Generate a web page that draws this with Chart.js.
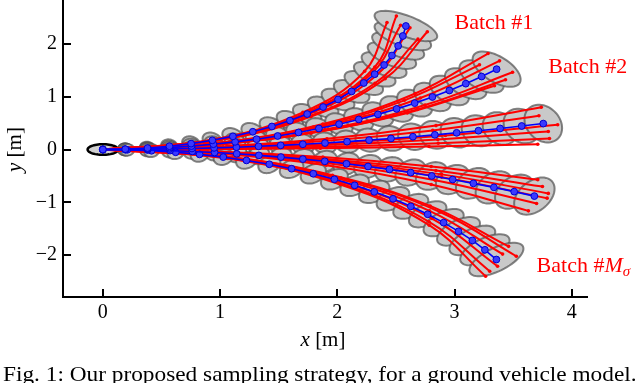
<!DOCTYPE html>
<html>
<head>
<meta charset="utf-8">
<script src="https://cdn.jsdelivr.net/npm/chart.js@4.4.1/dist/chart.umd.min.js"></script>
<style>
  body { margin: 0; background: #fff; }
  #wrap { position: relative; width: 640px; height: 383px; overflow: hidden; }
  #traj { position: absolute; left: 0; top: -4px; }
  #caption { position: absolute; left: 3px; top: 362px; font: 21px 'Liberation Serif', serif; white-space: nowrap; color: #000; transform-origin: 0 0; }
</style>
</head>
<body>
<div id="wrap">
  <canvas id="traj" width="640" height="387"></canvas>
  <div id="caption">Fig. 1: Our proposed sampling strategy, for a ground vehicle model.</div>
</div>
<script>
// Graduations des axes
const xTicks = [0, 1, 2, 3, 4];
const yTicks = [-2, -1, 0, 1, 2];

// Trajectoires moyennes (points bleus), 21 pas par batch
const meanX1 = [0, 0.191, 0.381, 0.568, 0.753, 0.934, 1.109, 1.279, 1.442, 1.596, 1.743, 1.879, 2.006, 2.122, 2.226, 2.319, 2.399, 2.466, 2.519, 2.559, 2.585];
const meanY1 = [0, 0.007, 0.028, 0.063, 0.112, 0.174, 0.249, 0.336, 0.436, 0.548, 0.671, 0.804, 0.947, 1.099, 1.259, 1.426, 1.599, 1.778, 1.961, 2.148, 2.337];
const meanX2 = [0, 0.190, 0.380, 0.568, 0.756, 0.943, 1.128, 1.311, 1.491, 1.669, 1.843, 2.015, 2.183, 2.346, 2.506, 2.660, 2.811, 2.956, 3.096, 3.231, 3.359];
const meanY2 = [0, 0.004, 0.016, 0.036, 0.065, 0.101, 0.145, 0.196, 0.256, 0.323, 0.398, 0.480, 0.569, 0.665, 0.768, 0.878, 0.994, 1.117, 1.246, 1.381, 1.520];
const meanX3 = [0, 0.190, 0.380, 0.570, 0.760, 0.949, 1.139, 1.328, 1.517, 1.706, 1.895, 2.083, 2.271, 2.458, 2.645, 2.832, 3.018, 3.204, 3.389, 3.573, 3.757];
const meanY3 = [0, 0.001, 0.005, 0.011, 0.020, 0.031, 0.044, 0.061, 0.079, 0.100, 0.123, 0.149, 0.178, 0.209, 0.242, 0.278, 0.316, 0.356, 0.399, 0.445, 0.491];
const meanX4 = [0, 0.191, 0.382, 0.573, 0.763, 0.953, 1.142, 1.331, 1.519, 1.706, 1.893, 2.078, 2.262, 2.445, 2.626, 2.806, 2.984, 3.161, 3.336, 3.509, 3.681];
const meanY4 = [0, -0.002, -0.009, -0.020, -0.036, -0.056, -0.081, -0.110, -0.143, -0.181, -0.223, -0.270, -0.321, -0.376, -0.436, -0.500, -0.568, -0.640, -0.716, -0.797, -0.881];
const meanX5 = [0, 0.208, 0.415, 0.621, 0.825, 1.027, 1.225, 1.420, 1.610, 1.795, 1.975, 2.148, 2.315, 2.475, 2.627, 2.771, 2.907, 3.034, 3.152, 3.259, 3.357];
const meanY5 = [0, -0.006, -0.023, -0.052, -0.092, -0.143, -0.206, -0.279, -0.363, -0.458, -0.563, -0.677, -0.801, -0.933, -1.075, -1.225, -1.383, -1.548, -1.720, -1.897, -2.081];

// Echantillons (lignes rouges), 6 par batch
const sampleX1 = [[0, 0.964, 1.779, 2.320, 2.504], [0, 0.922, 1.706, 2.233, 2.424], [0, 0.930, 1.731, 2.294, 2.540],
                  [0, 0.900, 1.702, 2.321, 2.688], [0, 0.942, 1.776, 2.408, 2.768], [0, 0.931, 1.743, 2.330, 2.620]];
const sampleY1 = [[0, 0.193, 0.742, 1.562, 2.527], [0, 0.182, 0.702, 1.481, 2.402], [0, 0.176, 0.679, 1.440, 2.352],
                  [0, 0.150, 0.584, 1.254, 2.088], [0, 0.161, 0.626, 1.341, 2.228], [0, 0.170, 0.657, 1.397, 2.303]];
const sampleX2 = [[0, 0.969, 1.877, 2.665, 3.286], [0, 0.923, 1.796, 2.573, 3.213], [0, 0.966, 1.894, 2.748, 3.495],
                  [0, 0.936, 1.840, 2.682, 3.435], [0, 0.970, 1.889, 2.708, 3.384], [0, 0.902, 1.777, 2.598, 3.341]];
const sampleY2 = [[0, 0.123, 0.484, 1.060, 1.816], [0, 0.107, 0.423, 0.931, 1.603], [0, 0.096, 0.380, 0.842, 1.462],
                  [0, 0.086, 0.342, 0.758, 1.321], [0, 0.112, 0.443, 0.974, 1.678], [0, 0.078, 0.311, 0.692, 1.207]];
const sampleX3 = [[0, 0.961, 1.912, 2.842, 3.740], [0, 0.947, 1.887, 2.814, 3.720], [0, 0.979, 1.954, 2.922, 3.880],
                  [0, 0.955, 1.908, 2.857, 3.800], [0, 0.954, 1.909, 2.861, 3.810], [0, 0.928, 1.856, 2.783, 3.710]];
const sampleY3 = [[0, 0.051, 0.202, 0.453, 0.800], [0, 0.040, 0.161, 0.362, 0.640], [0, 0.030, 0.118, 0.265, 0.470],
                  [0, 0.021, 0.085, 0.192, 0.340], [0, 0.013, 0.053, 0.118, 0.210], [0, 0.006, 0.025, 0.056, 0.100]];
const sampleX4 = [[0, 0.941, 1.877, 2.801, 3.710], [0, 0.958, 1.907, 2.841, 3.750], [0, 0.978, 1.945, 2.889, 3.800],
                  [0, 0.982, 1.950, 2.890, 3.790], [0, 0.968, 1.919, 2.835, 3.700], [0, 0.964, 1.905, 2.801, 3.630]];
const sampleY4 = [[0, -0.036, -0.143, -0.322, -0.570], [0, -0.044, -0.177, -0.396, -0.700], [0, -0.053, -0.210, -0.470, -0.830],
                  [0, -0.059, -0.233, -0.522, -0.920], [0, -0.065, -0.260, -0.580, -1.020], [0, -0.075, -0.297, -0.662, -1.160]];
const sampleX5 = [[0, 1.066, 2.025, 2.784, 3.265], [0, 1.052, 2.032, 2.877, 3.527], [0, 1.009, 1.958, 2.792, 3.461],
                  [0, 1.050, 2.013, 2.808, 3.367], [0, 1.021, 1.972, 2.786, 3.410], [0, 1.054, 2.011, 2.783, 3.300]];
const sampleY5 = [[0, -0.170, -0.663, -1.432, -2.397], [0, -0.138, -0.540, -1.182, -2.019], [0, -0.123, -0.486, -1.067, -1.832],
                  [0, -0.154, -0.601, -1.306, -2.207], [0, -0.135, -0.531, -1.159, -1.978], [0, -0.162, -0.632, -1.368, -2.303]];

// Demi-axes des ellipses d'incertitude (latéral / longitudinal) par pas
const latSemi = [0.10, 0.11, 0.12, 0.13, 0.14, 0.15, 0.16, 0.17, 0.18, 0.19, 0.20, 0.21, 0.22, 0.235, 0.25, 0.265, 0.28, 0.295, 0.31, 0.33, 0.36];
const lonSemi = [0.13, 0.06, 0.065, 0.07, 0.075, 0.08, 0.085, 0.09, 0.095, 0.10, 0.105, 0.11, 0.115, 0.12, 0.125, 0.13, 0.135, 0.14, 0.145, 0.15, 0.155];

// Etiquettes des batchs
const batchLabels = ['Batch #1', 'Batch #2', 'Batch #'];
const labelAnchors = [[3.0, 2.28], [3.80, 1.45], [3.70, -2.32]];

const batches = [
    { mx: meanX1, my: meanY1, sx: sampleX1, sy: sampleY1 },
    { mx: meanX2, my: meanY2, sx: sampleX2, sy: sampleY2 },
    { mx: meanX3, my: meanY3, sx: sampleX3, sy: sampleY3 },
    { mx: meanX4, my: meanY4, sx: sampleX4, sy: sampleY4 },
    { mx: meanX5, my: meanY5, sx: sampleX5, sy: sampleY5 }
];

const serif = "'Liberation Serif', serif";

// Construire les datasets (rouge dessous, bleu dessus)
const datasets = [];
batches.forEach(b => {
    b.sx.forEach((xs, k) => {
        datasets.push({
            data: xs.map((x, i) => ({ x: x, y: b.sy[k][i] })),
            showLine: true,
            borderColor: '#ff0000',
            borderWidth: 2,
            tension: 0.4,
            pointRadius: 1.8,
            pointBackgroundColor: '#ff0000',
            pointBorderWidth: 0,
            order: 2
        });
    });
    datasets.push({
        data: b.mx.map((x, i) => ({ x: x, y: b.my[i] })),
        showLine: true,
        borderColor: '#0000ff',
        borderWidth: 1.6,
        tension: 0,
        pointRadius: 3.4,
        pointBackgroundColor: '#3a3aff',
        pointBorderColor: '#0000d0',
        pointBorderWidth: 1,
        order: 1
    });
});

// Tracer une ellipse dans le repère des données
function traceEllipse(ctx, xs, ys, cx, cy, lon, lat, ang) {
    ctx.beginPath();
    for (let k = 0; k <= 60; k++) {
        const t = k / 60 * 2 * Math.PI;
        const u = lon * Math.cos(t), v = lat * Math.sin(t);
        const px = xs.getPixelForValue(cx + u * Math.cos(ang) - v * Math.sin(ang));
        const py = ys.getPixelForValue(cy + u * Math.sin(ang) + v * Math.cos(ang));
        if (k === 0) ctx.moveTo(px, py); else ctx.lineTo(px, py);
    }
    ctx.closePath();
}

const ellipsePlugin = {
    id: 'ellipses',
    beforeDatasetsDraw(chart) {
        const ctx = chart.ctx;
        const xs = chart.scales.x, ys = chart.scales.y;
        const a = chart.chartArea;
        ctx.save();
        ctx.beginPath();
        ctx.rect(a.left, a.top, a.right - a.left, a.bottom - a.top);
        ctx.clip();
        // ellipse initiale
        traceEllipse(ctx, xs, ys, 0, 0, lonSemi[0], latSemi[0], 0);
        ctx.fillStyle = '#d0d0d0';
        ctx.fill();
        ctx.lineWidth = 2.5;
        ctx.strokeStyle = '#000';
        ctx.stroke();
        batches.forEach(b => {
            for (let i = 1; i < b.mx.length; i++) {
                const ang = Math.atan2(b.my[i], b.mx[i]);
                traceEllipse(ctx, xs, ys, b.mx[i], b.my[i], lonSemi[i], latSemi[i], ang);
                ctx.fillStyle = '#c9c9c9';
                ctx.fill();
                ctx.lineWidth = 2;
                ctx.strokeStyle = 'rgba(80,80,80,0.7)';
                ctx.stroke();
            }
        });
        ctx.restore();
    }
};

// Graduations vers l'intérieur, titres des axes et étiquettes
const decorPlugin = {
    id: 'decor',
    afterDraw(chart) {
        const ctx = chart.ctx;
        const xs = chart.scales.x, ys = chart.scales.y;
        const a = chart.chartArea;
        ctx.save();
        ctx.strokeStyle = '#000';
        ctx.lineWidth = 2;
        xs.ticks.forEach(t => {
            const p = Math.round(xs.getPixelForValue(t.value));
            ctx.beginPath(); ctx.moveTo(p, a.bottom); ctx.lineTo(p, a.bottom - 8); ctx.stroke();
        });
        ys.ticks.forEach(t => {
            const p = Math.round(ys.getPixelForValue(t.value));
            ctx.beginPath(); ctx.moveTo(a.left, p); ctx.lineTo(a.left + 8, p); ctx.stroke();
        });

        // titres "x [m]" et "y [m]"
        function mixed(italic, rest, cx, cy, rot) {
            ctx.save();
            ctx.translate(cx, cy);
            ctx.rotate(rot);
            ctx.fillStyle = '#000';
            ctx.textBaseline = 'alphabetic';
            ctx.font = 'italic 21px ' + serif;
            const w1 = ctx.measureText(italic).width;
            ctx.font = '21px ' + serif;
            const w2 = ctx.measureText(rest).width;
            const x0 = -(w1 + w2) / 2;
            ctx.font = 'italic 21px ' + serif;
            ctx.fillText(italic, x0, 0);
            ctx.font = '21px ' + serif;
            ctx.fillText(rest, x0 + w1, 0);
            ctx.restore();
        }
        mixed('x', ' [m]', (a.left + a.right) / 2 - 2, a.bottom + 49, 0);
        mixed('y', ' [m]', 21, ys.getPixelForValue(0), -Math.PI / 2);

        // étiquettes rouges
        ctx.fillStyle = '#ff0000';
        ctx.textBaseline = 'alphabetic';
        batchLabels.forEach((txt, i) => {
            const px = xs.getPixelForValue(labelAnchors[i][0]);
            const py = ys.getPixelForValue(labelAnchors[i][1]);
            ctx.font = '22px ' + serif;
            ctx.fillText(txt, px, py);
            if (i === 2) {
                const w = ctx.measureText(txt).width;
                ctx.font = 'italic 22px ' + serif;
                ctx.fillText('M', px + w, py);
                const wm = ctx.measureText('M').width;
                ctx.font = 'italic 15px ' + serif;
                ctx.fillText('σ', px + w + wm, py + 4);
            }
        });
        ctx.restore();
    }
};

const ctx = document.getElementById('traj').getContext('2d');
const chart = new Chart(ctx, {
    type: 'scatter',
    data: { datasets: datasets },
    options: {
        responsive: false,
        animation: false,
        layout: { padding: { left: 0, right: 53, top: 0, bottom: 0 } },
        plugins: {
            legend: { display: false },
            tooltip: { enabled: false }
        },
        scales: {
            x: {
                type: 'linear',
                min: -0.34,
                max: 4.13,
                afterBuildTicks: s => { s.ticks = xTicks.map(v => ({ value: v })); },
                afterFit: s => { s.height = 86; s.paddingLeft = 0; s.paddingRight = 0; },
                grid: { display: false, drawTicks: false },
                border: { display: true, color: '#000', width: 2 },
                ticks: {
                    padding: 4,
                    color: '#000',
                    font: { family: serif, size: 20 },
                    callback: v => (v < 0 ? '\u2212' + Math.abs(v) : '' + v)
                }
            },
            y: {
                type: 'linear',
                min: -2.79,
                max: 2.81,
                afterBuildTicks: s => { s.ticks = yTicks.map(v => ({ value: v })); },
                afterFit: s => { s.width = 63; s.paddingTop = 0; s.paddingBottom = 0; },
                grid: { display: false, drawTicks: false },
                border: { display: true, color: '#000', width: 2 },
                ticks: {
                    padding: 6,
                    color: '#000',
                    font: { family: serif, size: 20 },
                    callback: v => (v < 0 ? '\u2212' + Math.abs(v) : '' + v)
                }
            }
        }
    },
    plugins: [ellipsePlugin, decorPlugin]
});

// Ajuster la légende de figure à la largeur de la page
const cap = document.getElementById('caption');
cap.style.transform = 'scaleX(' + (634 / cap.offsetWidth).toFixed(3) + ')';
</script>
</body>
</html>
